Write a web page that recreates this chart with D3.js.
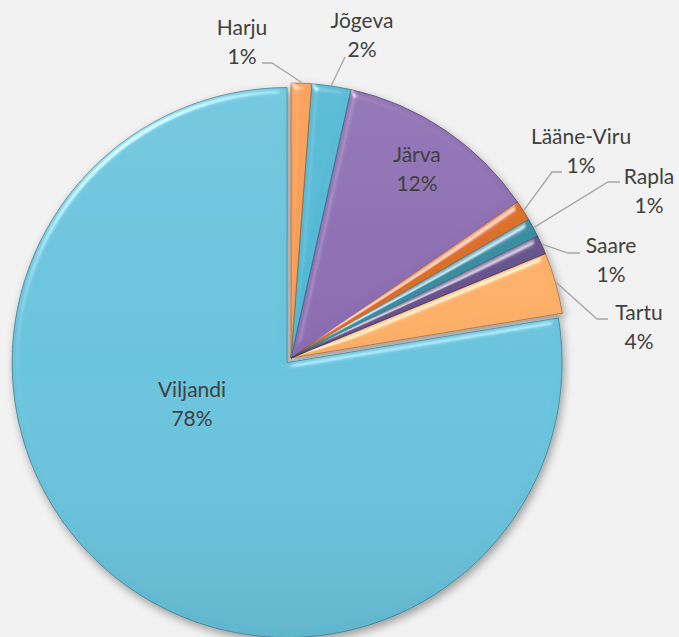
<!DOCTYPE html>
<html>
<head>
<meta charset="utf-8">
<script src="https://cdn.jsdelivr.net/npm/d3@7"></script>
<style>
  html, body { margin: 0; padding: 0; background: #f2f2f2; }
  svg { display: block; }
</style>
</head>
<body>
<div id="chart"></div>
<script>
// data
const regions = ["Harju", "Jõgeva", "Järva", "Lääne-Viru", "Rapla", "Saare", "Tartu", "Viljandi"];
const shares = [1.2, 2.3, 11.9, 1.2, 1.1, 1.1, 3.6, 77.6];
const sliceColors = ["#f89c52", "#4fb6d3", "#8a6bb0", "#d96b22", "#348a9f", "#65508a", "#fbae66", "#68c3dc"];

// layout
const width = 679, height = 637;
const cx = 291, cy = 358, radius = 275;
const explode = { "Viljandi": 6 };
// label anchor (x of text centre, baseline of first line), relative to page
const labelAt = {
  "Harju": [242, 35],
  "Jõgeva": [362, 28],
  "Järva": [417, 162],
  "Lääne-Viru": [581, 144],
  "Rapla": [649, 184],
  "Saare": [611, 253],
  "Tartu": [639, 320],
  "Viljandi": [192, 397]
};
// leader elbow: [x where horizontal part meets label, x of elbow, y]
const leaders = {
  "Harju": [262, 272, 63],
  "Jõgeva": [345, 345, 57],
  "Lääne-Viru": [562, 552, 172],
  "Rapla": [620, 608, 182],
  "Saare": [580, 568, 253],
  "Tartu": [608, 597, 319]
};

const svg = d3.select("#chart").append("svg")
  .attr("width", width)
  .attr("height", height)
  .style("font-family", "Lato, 'Open Sans', sans-serif");

const defs = svg.append("defs");

const shadow = defs.append("filter").attr("id", "shadow")
  .attr("x", "-10%").attr("y", "-10%").attr("width", "120%").attr("height", "120%");
shadow.append("feDropShadow")
  .attr("dx", 2).attr("dy", 4).attr("stdDeviation", 4)
  .attr("flood-color", "#000").attr("flood-opacity", 0.35);

// soft bevel: light only the sloped rim, flat inside stays untouched
const bevel = defs.append("filter").attr("id", "bevel")
  .attr("x", "-5%").attr("y", "-5%").attr("width", "110%").attr("height", "110%");
bevel.append("feGaussianBlur").attr("in", "SourceAlpha").attr("stdDeviation", 3.5).attr("result", "blur");
bevel.append("feSpecularLighting")
  .attr("in", "blur").attr("surfaceScale", 5).attr("specularConstant", 0.9)
  .attr("specularExponent", 30).attr("lighting-color", "#ffffff").attr("result", "spec")
  .append("feDistantLight").attr("azimuth", 235).attr("elevation", 30);
bevel.append("feComposite").attr("in", "spec").attr("in2", "SourceAlpha").attr("operator", "in").attr("result", "specIn");
bevel.append("feComposite").attr("in", "SourceGraphic").attr("in2", "specIn")
  .attr("operator", "arithmetic").attr("k1", 0).attr("k2", 1).attr("k3", 0.6).attr("k4", 0);

// faint top-to-bottom shading across the whole pie
const shade = defs.append("linearGradient").attr("id", "shade")
  .attr("gradientUnits", "userSpaceOnUse")
  .attr("x1", 0).attr("y1", -radius).attr("x2", 0).attr("y2", radius);
shade.append("stop").attr("offset", 0).attr("stop-color", "#fff").attr("stop-opacity", 0.08);
shade.append("stop").attr("offset", 0.5).attr("stop-color", "#fff").attr("stop-opacity", 0);
shade.append("stop").attr("offset", 1).attr("stop-color", "#000").attr("stop-opacity", 0.07);

const pie = d3.pie().sort(null).value(d => d.value);
const slices = pie(regions.map((name, i) => ({ name, value: shares[i], color: sliceColors[i] })));
const total = d3.sum(shares);

const arc = d3.arc().innerRadius(0).outerRadius(radius);
const rim = d3.arc().innerRadius(radius + 1).outerRadius(radius + 1);

function offset(d) {
  const k = explode[d.data.name] || 0;
  const a = (d.startAngle + d.endAngle) / 2;
  return [Math.sin(a) * k, -Math.cos(a) * k];
}

const g = svg.append("g")
  .attr("transform", `translate(${cx},${cy})`);

const pieG = g.append("g").attr("filter", "url(#shadow)");

// draw big slice first so small slices sit on top
const order = slices.slice().sort((a, b) => d3.descending(a.value, b.value));

const sliceG = pieG.selectAll("g")
  .data(order)
  .join("g")
  .attr("transform", d => `translate(${offset(d)})`)
  .attr("filter", "url(#bevel)");

sliceG.append("path")
  .attr("d", arc)
  .attr("fill", d => d.data.color)
  .attr("stroke", d => d3.color(d.data.color).darker(1.3))
  .attr("stroke-width", 0.8)
  .attr("stroke-linejoin", "round");

sliceG.append("path")
  .attr("d", arc)
  .attr("fill", "url(#shade)");

// leader lines
const outside = slices.filter(d => leaders[d.data.name]);
g.append("g")
  .attr("fill", "none")
  .attr("stroke", "#a6a6a6")
  .attr("stroke-width", 1.3)
  .selectAll("polyline")
  .data(outside)
  .join("polyline")
  .attr("points", d => {
    const [x0, x1, y] = leaders[d.data.name];
    const p = rim.centroid(d);
    return [[x0 - cx, y - cy], [x1 - cx, y - cy], p].map(q => q.join(",")).join(" ");
  });

// labels
const labels = svg.append("g")
  .attr("fill", "#404040")
  .attr("font-size", 21)
  .attr("text-anchor", "middle")
  .selectAll("text")
  .data(slices)
  .join("text")
  .attr("transform", d => `translate(${labelAt[d.data.name]})`);

labels.append("tspan")
  .attr("x", 0).attr("y", 0)
  .text(d => d.data.name);
labels.append("tspan")
  .attr("x", 0).attr("y", 29)
  .text(d => d3.format(".0%")(d.data.value / total));
</script>
</body>
</html>
